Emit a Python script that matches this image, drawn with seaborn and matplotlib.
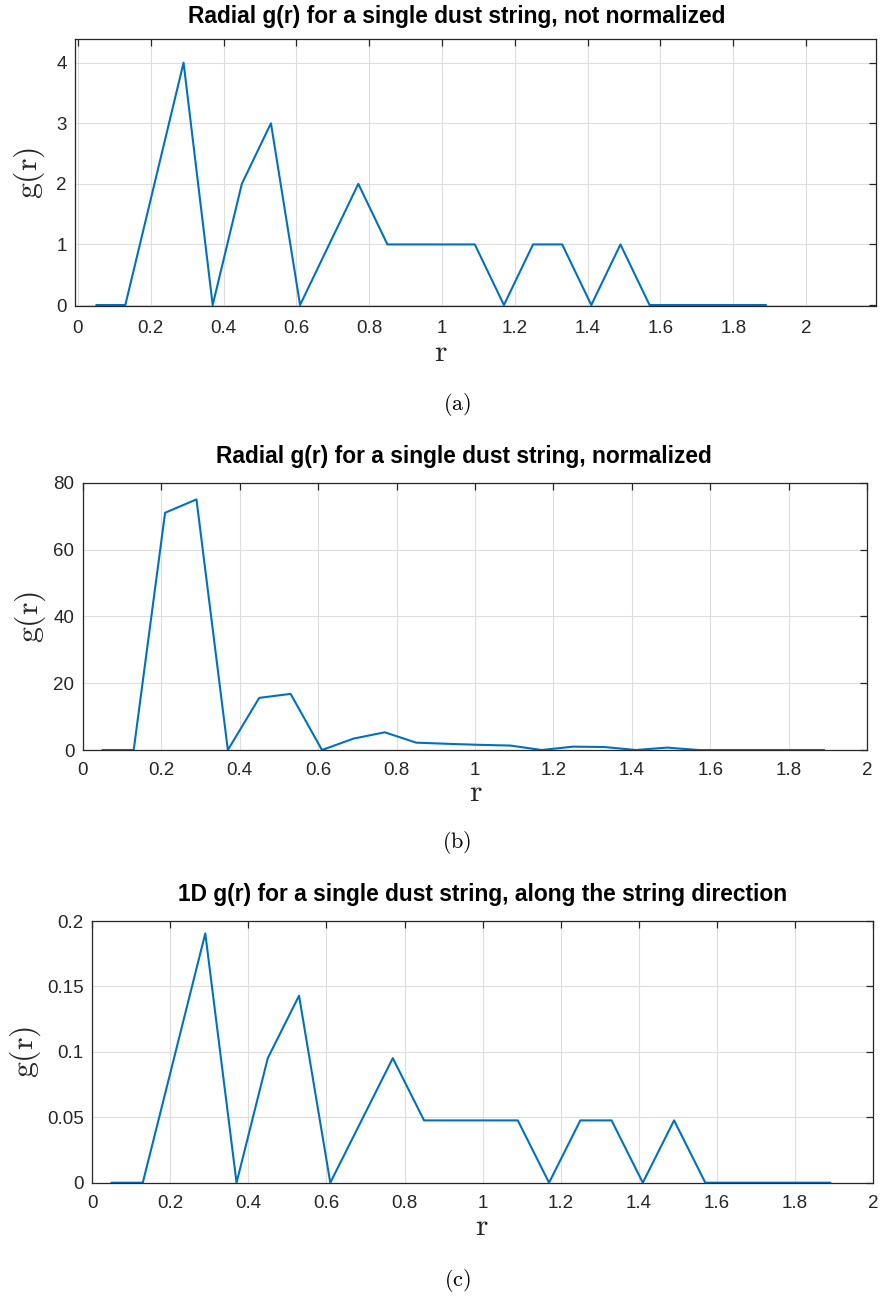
import numpy as np
import pandas as pd
import matplotlib
matplotlib.use("Agg")
import matplotlib.pyplot as plt
import seaborn as sns

# Bin centres of the pair-distance histogram
r = [0.05, 0.13, 0.21, 0.29, 0.37, 0.45, 0.53, 0.61, 0.69, 0.77, 0.85, 0.93,
     1.01, 1.09, 1.17, 1.25, 1.33, 1.41, 1.49, 1.57, 1.65, 1.73, 1.81, 1.89]

# Raw pair counts per bin
g_counts = [0, 0, 2, 4, 0, 2, 3, 0, 1, 2, 1, 1,
            1, 1, 0, 1, 1, 0, 1, 0, 0, 0, 0, 0]

# Radially normalized g(r)
g_norm = [0, 0, 71.0, 75.0, 0, 15.6, 16.8, 0, 3.4, 5.3, 2.2, 1.85,
          1.55, 1.33, 0, 1.0, 0.89, 0, 0.72, 0, 0, 0, 0, 0]

# 1D g(r) along the string direction
g_1d = [0, 0, 0.0952, 0.1905, 0, 0.0952, 0.1429, 0, 0.0476, 0.0952, 0.0476, 0.0476,
        0.0476, 0.0476, 0, 0.0476, 0.0476, 0, 0.0476, 0, 0, 0, 0, 0]

titles = ["Radial g(r) for a single dust string, not normalized",
          "Radial g(r) for a single dust string, normalized",
          "1D g(r) for a single dust string, along the string direction"]
captions = ["(a)", "(b)", "(c)"]

sns.set_style("white")
plt.rcParams["font.family"] = ["Liberation Sans", "DejaVu Sans"]
plt.rcParams["mathtext.fontset"] = "cm"

W, H = 881, 1297
fig = plt.figure(figsize=(W / 100, H / 100), dpi=100)

def px_axes(left, right, top, bottom):
    return fig.add_axes([left / W, 1 - bottom / H, (right - left) / W, (bottom - top) / H])

line_color = "#0072BD"
axis_color = "#262626"

panels = [
    dict(rect=(75.3, 876, 39.3, 306), y=g_counts, xlim=(-0.0074, 2.192), ylim=(-0.016, 4.386),
         xticks=np.arange(0, 2.01, 0.2), yticks=[0, 1, 2, 3, 4],
         yticklabels=["0", "1", "2", "3", "4"], xpad=10,
         title_xy=(457, 16), xlabel_xy=(441, 353), ylabel_xy=(29, 173), cap_xy=(457, 405)),
    dict(rect=(82.7, 867.3, 482.7, 750), y=g_norm, xlim=(0, 2), ylim=(0, 80),
         xticks=np.arange(0, 2.01, 0.2), yticks=[0, 20, 40, 60, 80],
         yticklabels=["0", "20", "40", "60", "80"], xpad=8.5,
         title_xy=(464, 456), xlabel_xy=(476, 793), ylabel_xy=(30, 617), cap_xy=(457, 843)),
    dict(rect=(92, 873.3, 921, 1182.7), y=g_1d, xlim=(0, 2), ylim=(0, 0.2),
         xticks=np.arange(0, 2.01, 0.2), yticks=[0, 0.05, 0.1, 0.15, 0.2],
         yticklabels=["0", "0.05", "0.1", "0.15", "0.2"], xpad=8.5,
         title_xy=(482.5, 895), xlabel_xy=(482, 1227), ylabel_xy=(25, 1052), cap_xy=(457, 1281)),
]

xtick_labels = ["0", "0.2", "0.4", "0.6", "0.8", "1", "1.2", "1.4", "1.6", "1.8", "2"]

for p, title, cap in zip(panels, titles, captions):
    ax = px_axes(*p["rect"])
    df = pd.DataFrame({"r": r, "g": p["y"]})
    sns.lineplot(data=df, x="r", y="g", ax=ax, color=line_color, linewidth=1.5,
                 estimator=None, sort=False)
    ax.set_xlim(*p["xlim"])
    ax.set_ylim(*p["ylim"])
    ax.set_xticks(p["xticks"])
    ax.set_xticklabels(xtick_labels)
    ax.set_yticks(p["yticks"])
    ax.set_yticklabels(p["yticklabels"])
    ax.set_xlabel("")
    ax.set_ylabel("")
    ax.grid(True, color="#dedede", linewidth=0.8)
    ax.set_axisbelow(True)
    for s in ax.spines.values():
        s.set_color(axis_color)
        s.set_linewidth(0.9)
        s.set_visible(True)
    ax.tick_params(direction="in", length=5, width=0.9, color=axis_color,
                   top=True, right=True, labelsize=13.5, labelcolor=axis_color, pad=6)
    ax.tick_params(axis="x", pad=p["xpad"])

    fig.text(p["title_xy"][0] / W, 1 - p["title_xy"][1] / H, title,
             ha="center", va="center", fontsize=16.4, fontweight="bold", color="black")
    fig.text(p["xlabel_xy"][0] / W, 1 - p["xlabel_xy"][1] / H, r"$\mathrm{r}$",
             ha="center", va="center", fontsize=23, color=axis_color)
    fig.text(p["ylabel_xy"][0] / W, 1 - p["ylabel_xy"][1] / H, r"$\mathrm{g(r)}$",
             ha="center", va="center", fontsize=23, rotation=90, color=axis_color)
    fig.text(p["cap_xy"][0] / W, 1 - p["cap_xy"][1] / H, r"$\mathrm{" + cap + "}$",
             ha="center", va="center", fontsize=16, color="black")

fig.savefig("out.png", dpi=100, facecolor="white")
